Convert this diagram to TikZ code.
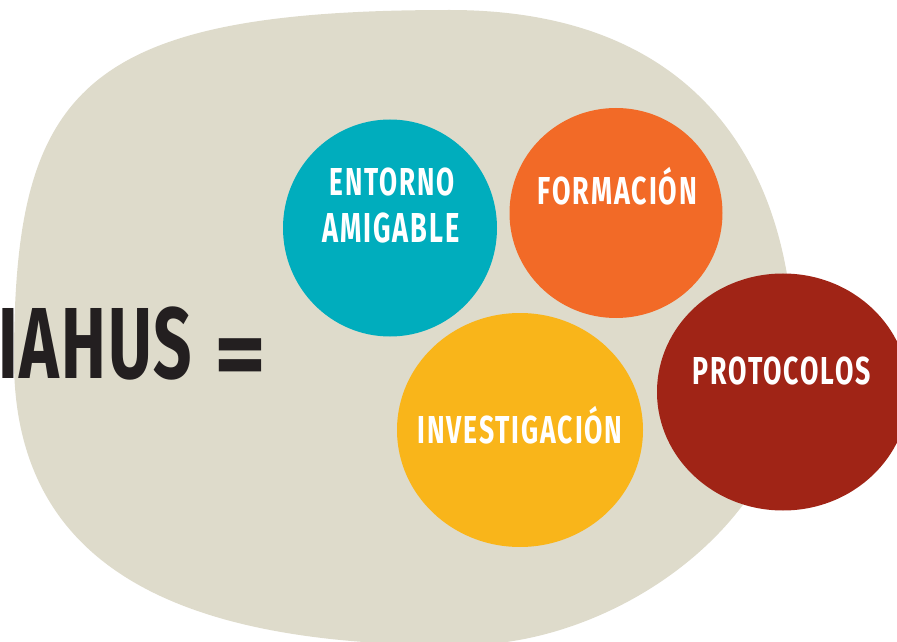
\documentclass[tikz,border=0pt]{standalone}
\usepackage{fontspec}
\usepackage{graphicx}
\usetikzlibrary{shapes.geometric}
\newfontfamily\labfont{Fira Sans}[LetterSpace=7]
\newfontfamily\bigfont{Fira Sans}[LetterSpace=3]
\newlength\px
\setlength\px{0.02cm}
\newcommand\fitt[3]{\resizebox{#1\px}{#2\px}{\vphantom{H}\smash{#3}}}
\definecolor{blobc}{RGB}{222,219,203}
\definecolor{cteal}{RGB}{0,173,189}
\definecolor{corange}{RGB}{242,106,39}
\definecolor{cyellow}{RGB}{249,181,26}
\definecolor{cred}{RGB}{160,36,22}
\definecolor{cdark}{RGB}{35,31,32}
\tikzset{
  bubble/.style={ellipse, draw=none, inner sep=0pt},
  lab/.style={anchor=base, inner sep=0pt, text=white, font=\labfont\bfseries},
  big/.style={inner sep=0pt, text=cdark, font=\bigfont\bfseries}
}
\begin{document}
\begin{tikzpicture}[x=0.02cm, y=-0.02cm]
\useasboundingbox (0,0) rectangle (897,642);
\clip (0,0) rectangle (897,642);
% background blob
\coordinate (bT) at (450,10);
\coordinate (bL) at (14,360);
\coordinate (bB) at (470,645);
\coordinate (bR) at (794,360);
\fill[blobc] (bT) .. controls (80,10) and (14,90) .. (bL)
  .. controls (14,580) and (200,648) .. (bB)
  .. controls (620,642) and (794,520) .. (bR)
  .. controls (794,170) and (700,10) .. (bT) -- cycle;
% bubbles
\node[bubble, fill=cteal, minimum width=214*\px, minimum height=217*\px] (c1) at (390,228) {};
\node[bubble, fill=corange, minimum width=213*\px, minimum height=210*\px] (c2) at (616,213) {};
\node[bubble, fill=cyellow, minimum width=246*\px, minimum height=234*\px] (c3) at (520,430) {};
\node[bubble, fill=cred, minimum width=252*\px, minimum height=237*\px] (c4) at (783,392) {};
% labels
\node[lab] (t1a) at (392,196) {\fitt{125}{27}{ENTORNO}};
\node[lab] (t1b) at (391,242) {\fitt{137}{29}{AMIGABLE}};
\node[lab] (t2) at (617.5,205) {\fitt{159}{27}{FORMACIÓN}};
\node[lab] (t3) at (520,443) {\fitt{205}{27}{INVESTIGACIÓN}};
\node[lab] (t4) at (782,384) {\fitt{178}{27}{PROTOCOLOS}};
% title
\node[big, anchor=base west] (iahus) at (-2,378) {\fitt{194}{70}{IAHUS}};
\node[big, anchor=north] (eq) at (241,338) {\resizebox{52\px}{!}{=}};
\end{tikzpicture}
\end{document}
